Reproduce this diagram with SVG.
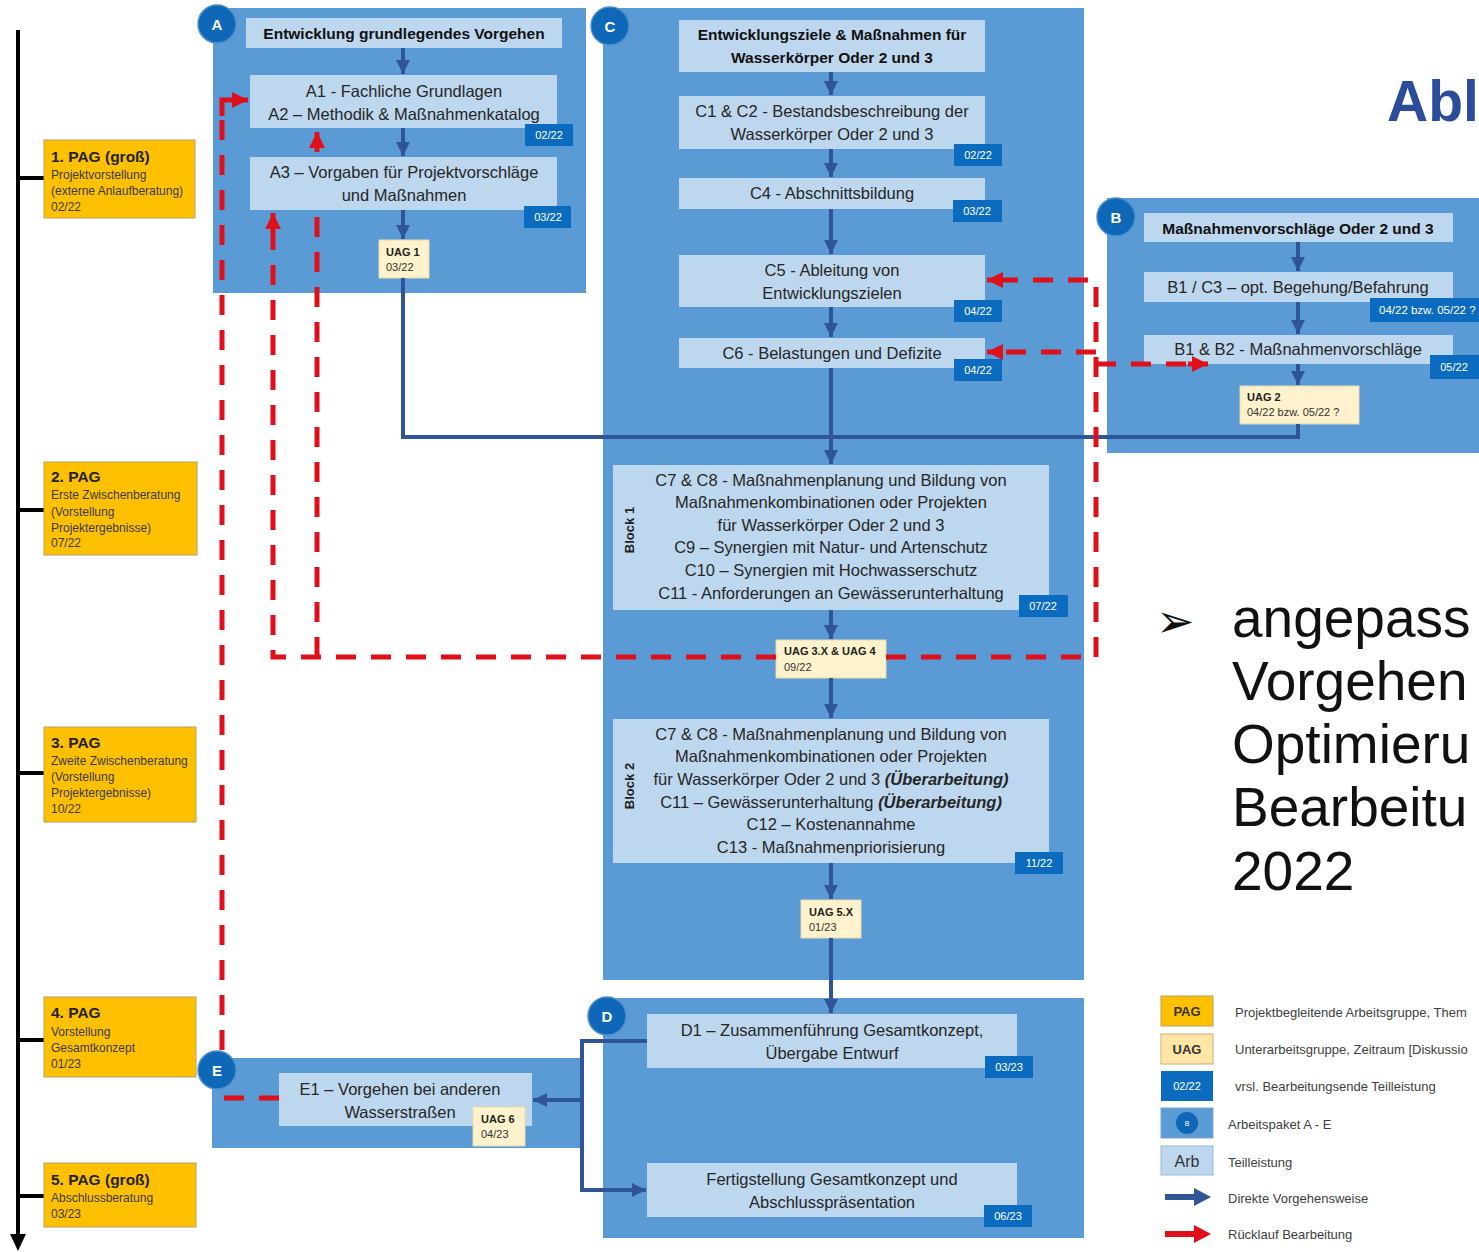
<svg xmlns="http://www.w3.org/2000/svg" width="1479" height="1252" viewBox="0 0 1479 1252">
<defs>
<style>
text{font-family:"Liberation Sans",Arial,sans-serif}
.blk{fill:#5B9BD5}
.box{fill:#BDD7EE}
.badge{fill:#0B6CBF}
.circ{fill:#0F67B8;stroke:#4F8FCB;stroke-width:1.5}
.uag{fill:#FFF2CC;stroke:#E8D9AE;stroke-width:1}
.pag{fill:#FFC000;stroke:#B8A060;stroke-width:1}
.t{font-size:16.5px;fill:#262626;text-anchor:middle}
.tb{font-size:15.5px;font-weight:bold;fill:#111;text-anchor:middle}
.bt{font-size:11px;fill:#fff;text-anchor:middle}
.bts{font-size:11.5px;fill:#fff}
.ct{font-size:15px;font-weight:bold;fill:#fff;text-anchor:middle}
.ut{font-size:11px;fill:#333}
.utb{font-size:11px;font-weight:bold;fill:#222}
.ph{font-size:15.5px;font-weight:bold;fill:#222}
.ps{font-size:12px;fill:#3a3a3a}
.lg{font-size:13px;fill:#404040}
.big{font-size:55px;fill:#111}
.blue{fill:none;stroke:#2F5597;stroke-width:4}
.red{fill:none;stroke:#E0101A;stroke-width:5;stroke-dasharray:20 15}
.redsolid{fill:none;stroke:#E0101A;stroke-width:5}
.tl{stroke:#000;stroke-width:4;fill:none}
</style>
<marker id="ab" viewBox="0 0 10 10" refX="10" refY="5" markerWidth="14" markerHeight="14" markerUnits="userSpaceOnUse" orient="auto"><path d="M0,0 L10,5 L0,10 z" fill="#2F5597"/></marker>
<marker id="ar" viewBox="0 0 10 10" refX="10" refY="5" markerWidth="16" markerHeight="16" markerUnits="userSpaceOnUse" orient="auto"><path d="M0,0 L10,5 L0,10 z" fill="#E0101A"/></marker>
</defs>
<rect width="1479" height="1252" fill="#fff"/>

<!-- timeline -->
<g id="timeline">
<path class="tl" d="M18,30 V1236"/>
<path d="M10,1234 L26,1234 L18,1251 z" fill="#000"/>
<path class="tl" d="M18,178 H44 M18,510 H44 M18,773 H44 M18,1040 H44 M18,1196 H44"/>
</g>

<!-- PAG nodes -->
<g id="pag1"><rect class="pag" x="44" y="140" width="151" height="78"/>
<text class="ph" x="51" y="162">1. PAG (groß)</text>
<text class="ps" x="51" y="179">Projektvorstellung</text>
<text class="ps" x="51" y="195">(externe Anlaufberatung)</text>
<text class="ps" x="51" y="211">02/22</text></g>
<g id="pag2"><rect class="pag" x="44" y="462" width="153" height="93"/>
<text class="ph" x="51" y="482">2. PAG</text>
<text class="ps" x="51" y="499">Erste Zwischenberatung</text>
<text class="ps" x="51" y="516">(Vorstellung</text>
<text class="ps" x="51" y="532">Projektergebnisse)</text>
<text class="ps" x="51" y="547">07/22</text></g>
<g id="pag3"><rect class="pag" x="44" y="727" width="152" height="95"/>
<text class="ph" x="51" y="748">3. PAG</text>
<text class="ps" x="51" y="765">Zweite Zwischenberatung</text>
<text class="ps" x="51" y="781">(Vorstellung</text>
<text class="ps" x="51" y="797">Projektergebnisse)</text>
<text class="ps" x="51" y="813">10/22</text></g>
<g id="pag4"><rect class="pag" x="44" y="997" width="152" height="80"/>
<text class="ph" x="51" y="1018">4. PAG</text>
<text class="ps" x="51" y="1036">Vorstellung</text>
<text class="ps" x="51" y="1052">Gesamtkonzept</text>
<text class="ps" x="51" y="1068">01/23</text></g>
<g id="pag5"><rect class="pag" x="44" y="1163" width="152" height="64"/>
<text class="ph" x="51" y="1185">5. PAG (groß)</text>
<text class="ps" x="51" y="1202">Abschlussberatung</text>
<text class="ps" x="51" y="1218">03/23</text></g>

<!-- Block A -->
<g id="blockA">
<rect class="blk" x="213" y="8" width="373" height="285"/>
<g id="A-title"><rect class="box" x="246" y="18" width="316" height="30"/><text class="tb" x="404" y="39">Entwicklung grundlegendes Vorgehen</text></g>
<g id="A1A2"><rect class="box" x="250" y="75" width="307" height="53"/><text class="t" x="404" y="97">A1 - Fachliche Grundlagen</text><text class="t" x="404" y="120">A2 – Methodik &amp; Maßnahmenkatalog</text>
<rect class="badge" x="525" y="124" width="48" height="22"/><text class="bt" x="549" y="139">02/22</text></g>
<g id="A3"><rect class="box" x="250" y="157" width="307" height="53"/><text class="t" x="404" y="178">A3 – Vorgaben für Projektvorschläge</text><text class="t" x="404" y="201">und Maßnahmen</text>
<rect class="badge" x="524" y="206" width="47" height="22"/><text class="bt" x="548" y="221">03/22</text></g>
<g id="UAG1"><rect class="uag" x="379" y="240" width="50" height="38"/><text class="utb" x="386" y="256">UAG 1</text><text class="ut" x="386" y="271">03/22</text></g>
</g>

<!-- Block C -->
<g id="blockC">
<rect class="blk" x="603" y="8" width="481" height="972"/>
<g id="C-title"><rect class="box" x="679" y="20" width="306" height="52"/><text class="tb" x="832" y="40">Entwicklungsziele &amp; Maßnahmen für</text><text class="tb" x="832" y="63">Wasserkörper  Oder 2 und 3</text></g>
<g id="C1C2"><rect class="box" x="679" y="96" width="306" height="53"/><text class="t" x="832" y="117">C1 &amp; C2 - Bestandsbeschreibung der</text><text class="t" x="832" y="140">Wasserkörper Oder 2 und 3</text>
<rect class="badge" x="954" y="144" width="48" height="22"/><text class="bt" x="978" y="159">02/22</text></g>
<g id="C4"><rect class="box" x="679" y="178" width="306" height="31"/><text class="t" x="832" y="199">C4 - Abschnittsbildung</text>
<rect class="badge" x="953" y="200" width="49" height="22"/><text class="bt" x="977" y="215">03/22</text></g>
<g id="C5"><rect class="box" x="679" y="255" width="306" height="52"/><text class="t" x="832" y="276">C5 - Ableitung von</text><text class="t" x="832" y="299">Entwicklungszielen</text>
<rect class="badge" x="954" y="300" width="48" height="22"/><text class="bt" x="978" y="315">04/22</text></g>
<g id="C6"><rect class="box" x="679" y="338" width="306" height="30"/><text class="t" x="832" y="359">C6 - Belastungen und Defizite</text>
<rect class="badge" x="954" y="359" width="48" height="22"/><text class="bt" x="978" y="374">04/22</text></g>
<g id="C-block1"><rect class="box" x="613" y="465" width="436" height="145"/>
<text class="t" x="831" y="486">C7 &amp; C8 - Maßnahmenplanung und Bildung von</text>
<text class="t" x="831" y="508">Maßnahmenkombinationen oder Projekten</text>
<text class="t" x="831" y="531">für Wasserkörper Oder 2 und 3</text>
<text class="t" x="831" y="553">C9 – Synergien mit Natur- und Artenschutz</text>
<text class="t" x="831" y="576">C10 – Synergien mit Hochwasserschutz</text>
<text class="t" x="831" y="599">C11 - Anforderungen an Gewässerunterhaltung</text>
<text font-size="13" font-weight="bold" fill="#222" text-anchor="middle" transform="translate(634,530) rotate(-90)">Block 1</text>
<rect class="badge" x="1019" y="595" width="49" height="22"/><text class="bt" x="1043" y="610">07/22</text></g>
<g id="UAG3"><rect class="uag" x="776" y="640" width="110" height="38"/><text class="utb" x="784" y="655">UAG 3.X &amp; UAG 4</text><text class="ut" x="784" y="671">09/22</text></g>
<g id="C-block2"><rect class="box" x="613" y="719" width="436" height="144"/>
<text class="t" x="831" y="740">C7 &amp; C8 - Maßnahmenplanung und Bildung von</text>
<text class="t" x="831" y="762">Maßnahmenkombinationen oder Projekten</text>
<text class="t" x="831" y="785">für Wasserkörper Oder 2 und 3 <tspan font-weight="bold" font-style="italic">(Überarbeitung)</tspan></text>
<text class="t" x="831" y="808">C11 – Gewässerunterhaltung <tspan font-weight="bold" font-style="italic">(Überarbeitung)</tspan></text>
<text class="t" x="831" y="830">C12 – Kostenannahme</text>
<text class="t" x="831" y="853">C13 - Maßnahmenpriorisierung</text>
<text font-size="13" font-weight="bold" fill="#222" text-anchor="middle" transform="translate(634,786) rotate(-90)">Block 2</text>
<rect class="badge" x="1015" y="852" width="48" height="22"/><text class="bt" x="1039" y="867">11/22</text></g>
<g id="UAG5"><rect class="uag" x="801" y="900" width="60" height="38"/><text class="utb" x="809" y="916">UAG 5.X</text><text class="ut" x="809" y="931">01/23</text></g>
</g>

<!-- Block B -->
<g id="blockB">
<rect class="blk" x="1107" y="198" width="372" height="255"/>
<g id="B-title"><rect class="box" x="1144" y="213" width="309" height="29"/><text class="tb" x="1298" y="234">Maßnahmenvorschläge  Oder 2 und 3</text></g>
<g id="B1C3"><rect class="box" x="1144" y="272" width="309" height="30"/><text class="t" x="1298" y="293">B1 / C3 – opt. Begehung/Befahrung</text>
<rect class="badge" x="1370" y="298" width="109" height="24"/><text class="bts" x="1379" y="314">04/22 bzw. 05/22 ?</text></g>
<g id="B1B2"><rect class="box" x="1144" y="335" width="309" height="29"/><text class="t" x="1298" y="355">B1 &amp; B2 - Maßnahmenvorschläge</text>
<rect class="badge" x="1430" y="355" width="49" height="24"/><text class="bt" x="1454" y="371">05/22</text></g>
<g id="UAG2"><rect class="uag" x="1240" y="386" width="119" height="38"/><text class="utb" x="1247" y="401">UAG 2</text><text class="ut" x="1247" y="416">04/22 bzw. 05/22 ?</text></g>
</g>

<!-- Block D -->
<g id="blockD">
<rect class="blk" x="603" y="998" width="481" height="240"/>
<g id="D1"><rect class="box" x="647" y="1014" width="370" height="54"/><text class="t" x="832" y="1036">D1 – Zusammenführung Gesamtkonzept,</text><text class="t" x="832" y="1059">Übergabe Entwurf</text>
<rect class="badge" x="985" y="1056" width="48" height="22"/><text class="bt" x="1009" y="1071">03/23</text></g>
<g id="D2"><rect class="box" x="647" y="1163" width="370" height="54"/><text class="t" x="832" y="1185">Fertigstellung Gesamtkonzept und</text><text class="t" x="832" y="1208">Abschlusspräsentation</text>
<rect class="badge" x="984" y="1205" width="48" height="22"/><text class="bt" x="1008" y="1220">06/23</text></g>
</g>

<!-- Block E -->
<g id="blockE">
<rect class="blk" x="212" y="1058" width="368" height="90"/>
<g id="E1"><rect class="box" x="279" y="1073" width="253" height="53"/><text class="t" x="400" y="1095">E1 – Vorgehen bei anderen</text><text class="t" x="400" y="1118">Wasserstraßen</text></g>
<g id="UAG6"><rect class="uag" x="473" y="1107" width="52" height="39"/><text class="utb" x="481" y="1123">UAG 6</text><text class="ut" x="481" y="1138">04/23</text></g>
</g>

<!-- connectors -->
<g id="connectors">
<path class="blue" d="M403,48 V74" marker-end="url(#ab)"/>
<path class="blue" d="M403,128 V156" marker-end="url(#ab)"/>
<path class="blue" d="M403,210 V239" marker-end="url(#ab)"/>
<path class="blue" d="M403,278 V437 H1298 V424"/>
<path class="blue" d="M831,72 V95" marker-end="url(#ab)"/>
<path class="blue" d="M831,149 V177" marker-end="url(#ab)"/>
<path class="blue" d="M831,209 V254" marker-end="url(#ab)"/>
<path class="blue" d="M831,307 V337" marker-end="url(#ab)"/>
<path class="blue" d="M831,368 V464" marker-end="url(#ab)"/>
<path class="blue" d="M831,610 V639" marker-end="url(#ab)"/>
<path class="blue" d="M831,678 V718" marker-end="url(#ab)"/>
<path class="blue" d="M831,863 V899" marker-end="url(#ab)"/>
<path class="blue" d="M831,938 V1013" marker-end="url(#ab)"/>
<path class="blue" d="M1298,242 V271" marker-end="url(#ab)"/>
<path class="blue" d="M1298,302 V334" marker-end="url(#ab)"/>
<path class="blue" d="M1298,364 V385" marker-end="url(#ab)"/>
<path class="blue" d="M647,1041 H582 V1190 H646" marker-end="url(#ab)"/>
<path class="blue" d="M582,1100 H533" marker-end="url(#ab)"/>
<!-- red return paths -->
<path class="red" d="M279,1098 H222 V1090 M222,1050 V114"/>
<path class="redsolid" d="M222,116 V100 H248" marker-end="url(#ar)"/>
<path class="red" d="M776,657 H273 V226"/>
<path class="redsolid" d="M273,230 V213" marker-end="url(#ar)"/>
<path class="red" d="M317,657 V212"/>
<path class="redsolid" d="M317,152 V132" marker-end="url(#ar)"/>
<path class="red" d="M886,657 H1096 V280 H1000"/>
<path class="redsolid" d="M1002,280 H987" marker-end="url(#ar)"/>
<path class="red" d="M1096,352 H1000"/>
<path class="redsolid" d="M1002,352 H987" marker-end="url(#ar)"/>
<path class="red" d="M1096,364 H1190"/>
<path class="redsolid" d="M1188,364 H1208" marker-end="url(#ar)"/>
</g>

<!-- package circles -->
<g id="circles">
<g id="circA"><circle class="circ" cx="217" cy="24" r="19"/><text class="ct" x="217" y="30">A</text></g>
<g id="circC"><circle class="circ" cx="610" cy="26" r="19"/><text class="ct" x="610" y="32">C</text></g>
<g id="circB"><circle class="circ" cx="1116" cy="217" r="19"/><text class="ct" x="1116" y="223">B</text></g>
<g id="circD"><circle class="circ" cx="607" cy="1016" r="19"/><text class="ct" x="607" y="1022">D</text></g>
<g id="circE"><circle class="circ" cx="217" cy="1070" r="19"/><text class="ct" x="217" y="1076">E</text></g>
</g>

<!-- title and bullet text -->
<g id="title"><text x="1387" y="121" font-size="57" font-weight="bold" fill="#2B4C9B">Abl</text></g>
<g id="bullet">
<text x="1156" y="637" font-size="46" fill="#111" style="font-family:'DejaVu Sans',sans-serif">➢</text>
<text class="big" x="1232" y="637">angepass</text>
<text class="big" x="1232" y="700">Vorgehen</text>
<text class="big" x="1232" y="763">Optimieru</text>
<text class="big" x="1232" y="826">Bearbeitu</text>
<text class="big" x="1232" y="890">2022</text>
</g>

<!-- legend -->
<g id="legend">
<rect class="pag" x="1161" y="996" width="52" height="30"/><text x="1187" y="1016" font-size="13" font-weight="bold" fill="#333" text-anchor="middle">PAG</text>
<text class="lg" x="1235" y="1017">Projektbegleitende Arbeitsgruppe, Them</text>
<rect x="1161" y="1034" width="52" height="30" fill="#FFE6A6" stroke="#C8B27A" stroke-width="1"/><text x="1187" y="1054" font-size="13" font-weight="bold" fill="#333" text-anchor="middle">UAG</text>
<text class="lg" x="1235" y="1054">Unterarbeitsgruppe, Zeitraum [Diskussio</text>
<rect class="badge" x="1161" y="1071" width="52" height="30"/><text class="bt" x="1187" y="1090">02/22</text>
<text class="lg" x="1235" y="1091">vrsl. Bearbeitungsende Teilleistung</text>
<rect class="blk" x="1161" y="1108" width="52" height="30" stroke="#7FA8D0"/><circle cx="1187" cy="1123" r="11" fill="#0F67B8"/><text x="1187" y="1126" font-size="7" fill="#fff" text-anchor="middle">B</text>
<text class="lg" x="1228" y="1129">Arbeitspaket A - E</text>
<rect class="box" x="1161" y="1146" width="52" height="29" stroke="#9DB8D2"/><text x="1187" y="1167" font-size="16" fill="#333" text-anchor="middle">Arb</text>
<text class="lg" x="1228" y="1167">Teilleistung</text>
<path d="M1165,1197 H1196" stroke="#2F5597" stroke-width="6"/><path d="M1194,1188 L1211,1197 L1194,1206 z" fill="#2F5597"/>
<text class="lg" x="1228" y="1203">Direkte Vorgehensweise</text>
<path d="M1165,1234 H1196" stroke="#E0101A" stroke-width="6"/><path d="M1194,1225 L1211,1234 L1194,1243 z" fill="#E0101A"/>
<text class="lg" x="1228" y="1239">Rücklauf Bearbeitung</text>
</g>
</svg>
